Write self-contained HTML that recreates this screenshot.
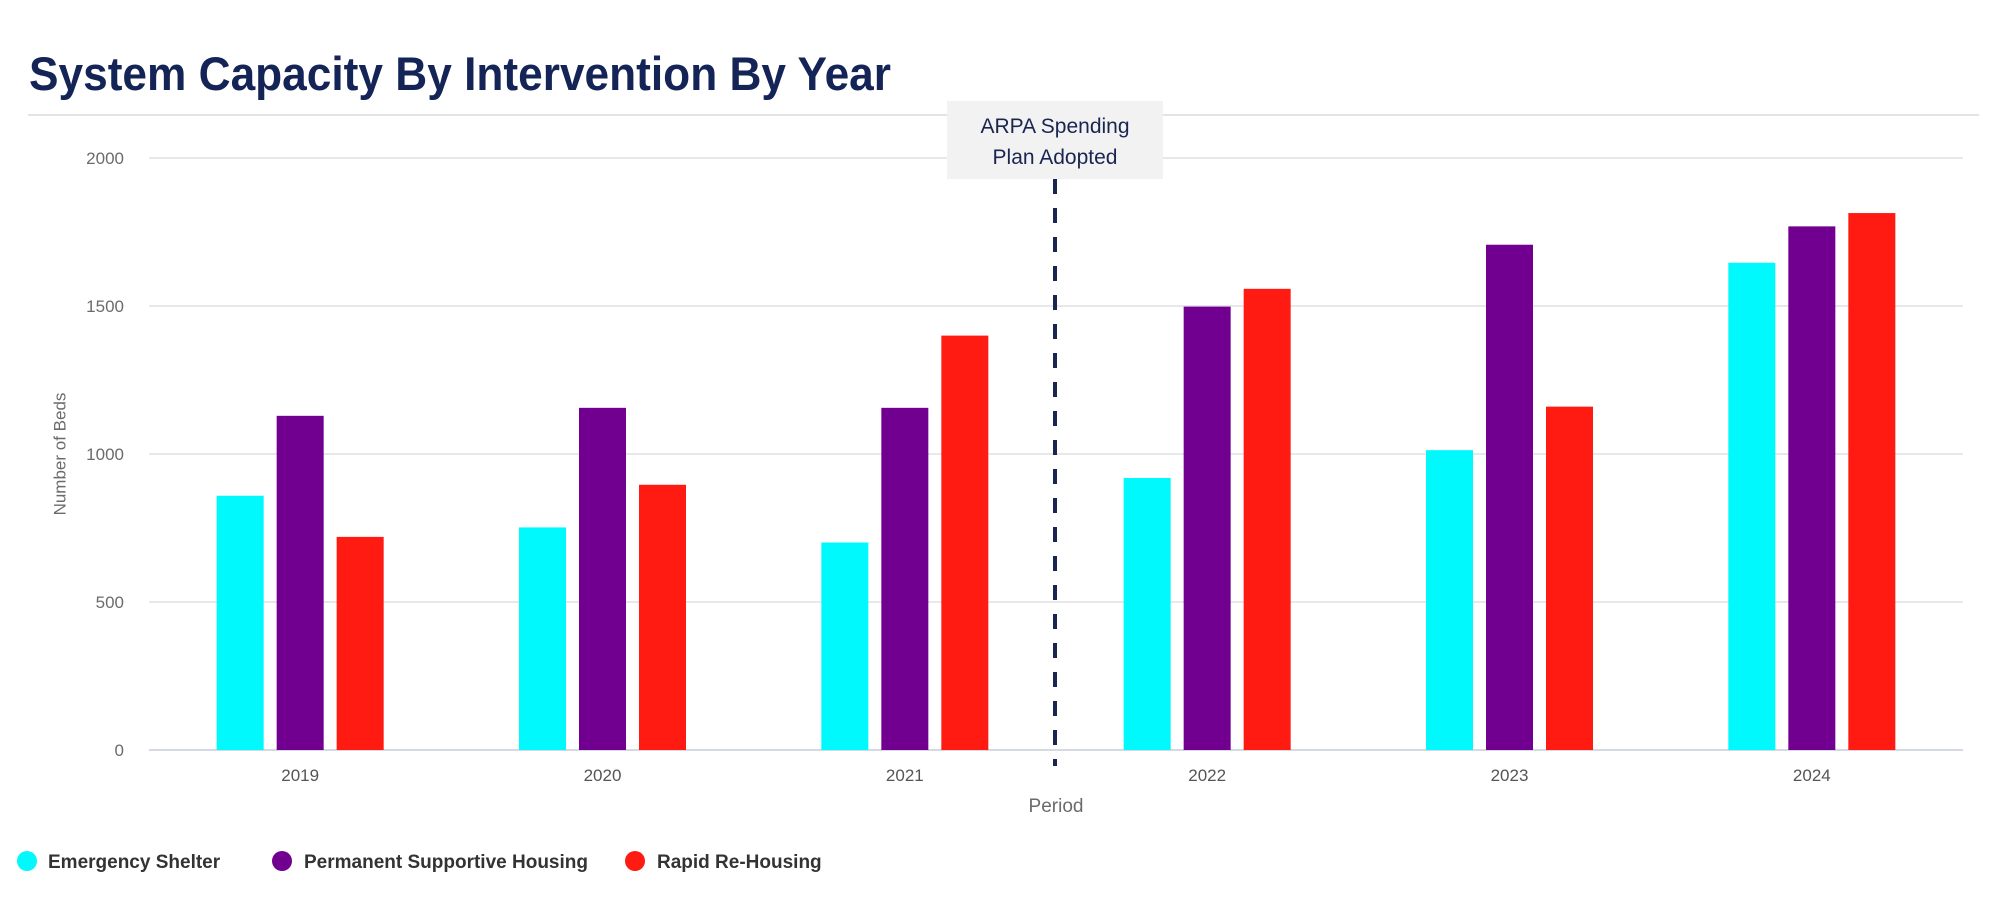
<!DOCTYPE html>
<html><head><meta charset="utf-8"><style>
body{margin:0;background:#fff;width:2000px;height:907px;overflow:hidden;font-family:"Liberation Sans",sans-serif}
</style></head><body>
<svg width="2000" height="907" xmlns="http://www.w3.org/2000/svg">
<text x="29" y="90" font-size="47" font-weight="bold" fill="#142456" textLength="862" lengthAdjust="spacingAndGlyphs">System Capacity By Intervention By Year</text>
<line x1="28" y1="115" x2="1979" y2="115" stroke="#e3e3e6" stroke-width="2"/>
<g id="grid"></g>
<g id="bars"></g>
<g id="xlabels"></g>
<text x="61" y="454" transform="rotate(-90 61 454)" text-anchor="middle" dominant-baseline="middle" font-size="17" fill="#6b6b6b">Number of Beds</text>
<text x="1056" y="812" text-anchor="middle" font-size="19" fill="#6b6b6b">Period</text>
<line x1="1055" y1="179" x2="1055" y2="766" stroke="#1a2550" stroke-width="4" stroke-dasharray="15,14"/>
<rect x="947" y="101" width="216" height="78" fill="#f2f2f2"/>
<text x="1055" y="133" text-anchor="middle" font-size="21" fill="#1a2550">ARPA Spending</text>
<text x="1055" y="164" text-anchor="middle" font-size="21" fill="#1a2550">Plan Adopted</text>
<g>
<circle cx="27" cy="861" r="10" fill="#00f9fc"/>
<text x="48" y="868" font-size="19" font-weight="bold" fill="#333">Emergency Shelter</text>
<circle cx="282" cy="861" r="10" fill="#710090"/>
<text x="304" y="868" font-size="19" font-weight="bold" fill="#333">Permanent Supportive Housing</text>
<circle cx="635" cy="861" r="10" fill="#ff1a12"/>
<text x="657" y="868" font-size="19" font-weight="bold" fill="#333">Rapid Re-Housing</text>
</g>
</svg>
<script>
const categories = ["2019","2020","2021","2022","2023","2024"];
const emergencyShelter = [859,752,701,919,1013,1646];
const permanentSupportive = [1129,1156,1156,1498,1707,1769];
const rapidRehousing = [720,896,1400,1558,1160,1814];
const yTicks = [0,500,1000,1500,2000];

const NS="http://www.w3.org/2000/svg";
const L=149,R=1963,T=158,B=750,YMAX=2000;
const y=v=>B-(v/YMAX)*(B-T);
const band=(R-L)/categories.length;
const xc=i=>L+band*(i+0.5);
function mk(tag,attrs,parent){const e=document.createElementNS(NS,tag);for(const k in attrs)e.setAttribute(k,attrs[k]);parent.appendChild(e);return e;}
const grid=document.getElementById('grid'),bars=document.getElementById('bars'),xl=document.getElementById('xlabels');
yTicks.forEach(t=>{
  const ln=mk('line',{x1:L,x2:R,y1:y(t),y2:y(t),stroke:t===0?'#d5d9e3':'#e8e8ec','stroke-width':2},grid);
  
  
  const tx=mk('text',{x:124,y:y(t)+6,'text-anchor':'end','font-size':17,fill:'#6b6b6b'},grid);
  tx.textContent=t;
  
  
});
const series=[[emergencyShelter,'#00f9fc','emergency-shelter'],[permanentSupportive,'#710090','psh'],[rapidRehousing,'#ff1a12','rrh']];
const bw=47,stride=60;
categories.forEach((c,i)=>{
  series.forEach((s,j)=>{
    const v=s[0][i];
    const x=xc(i)+(j-1)*stride-bw/2;
    const r=mk('rect',{x:x,y:y(v),width:bw,height:B-y(v),fill:s[1]},bars);
    
    
  });
  const t=mk('text',{x:xc(i),y:781,'text-anchor':'middle','font-size':17,fill:'#555'},xl);
  t.textContent=c;
  
  
});
</script>
</body></html>
